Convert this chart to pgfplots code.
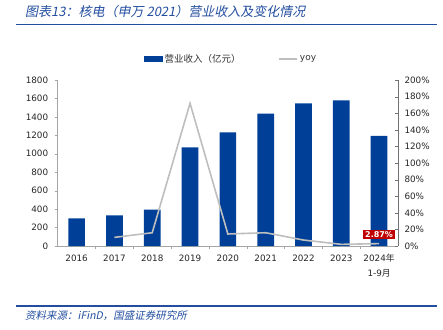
\documentclass[border=0pt]{standalone}
\usepackage{fontspec}
\usepackage{pgfplots}
\pgfplotsset{compat=1.18}
\setmainfont{DejaVu Sans}
\newfontfamily\cjk{Noto Sans CJK SC}
\newfontfamily\cjkit[FakeSlant=0.2]{Noto Sans CJK SC}
\definecolor{barblue}{RGB}{0,63,152}
\definecolor{titleblue}{RGB}{35,78,160}
\definecolor{linegray}{RGB}{190,190,190}
\definecolor{axgray}{RGB}{165,165,165}
\definecolor{labred}{RGB}{192,0,0}
\begin{document}
\begin{tikzpicture}[x=1bp,y=1bp]
\useasboundingbox (0,0) rectangle (443,-329);
\node[anchor=west, text=titleblue, inner sep=0] at (25,-12) {\cjkit\fontsize{13bp}{14bp}\selectfont 图表13：核电（申万 2021）营业收入及变化情况};
\draw[titleblue, line width=1.3bp] (16,-24.5) -- (437,-24.5);
\draw[titleblue, line width=1.3bp] (16,-306) -- (437,-306);
\node[anchor=west, text=titleblue, inner sep=0] at (25,-315.5) {\cjkit\fontsize{10.5bp}{12bp}\selectfont 资料来源：iFinD，国盛证券研究所};
\begin{axis}[
  at={(57.7bp,-246bp)}, anchor=south west,
  scale only axis, width=340.3bp, height=166bp,
  xmin=-0.5, xmax=8.5, ymin=0, ymax=1800,
  axis y line*=left, axis x line*=bottom,
  axis line style={axgray, line width=0.8bp},
  ytick={0,200,...,1800},
  xtick={0,...,8},
  xticklabels={2016,2017,2018,2019,2020,2021,2022,2023,{2024{\cjk 年}\\1-9{\cjk 月}}},
  xticklabel style={align=center, font=\fontsize{8.8bp}{15bp}\selectfont, text=black!85, yshift=-2bp},
  yticklabel style={font=\fontsize{8.8bp}{10bp}\selectfont, text=black!85, xshift=-3bp},
  major x tick style={draw=none},
  minor xtick={0.5,1.5,...,7.5},
  minor tick length=3bp,
  major tick length=3bp,
  x tick style={axgray},
  y tick style={axgray},
  ytick align=outside, xtick align=inside,
  /pgf/number format/assume math mode=true,
  /pgf/number format/1000 sep={},
  ybar, bar width=16.7bp, bar shift=0pt,
  clip=false,
  legend style={at={(0.509,1.127)}, anchor=center, draw=none, fill=none, legend columns=2,
    font=\cjk\fontsize{9.5bp}{10bp}\selectfont, text=black!80, inner sep=0pt,
    /tikz/every even column/.append style={column sep=36bp}},
]
\addplot[fill=barblue, draw=none, legend image code/.code={\fill[barblue] (0bp,-3.2bp) rectangle (19bp,3.2bp);}]
  coordinates {(0,300) (1,332) (2,394) (3,1070) (4,1232) (5,1435) (6,1547) (7,1579) (8,1193)};
\addlegendentry{营业收入（亿元）}
\addlegendimage{legend image code/.code={\draw[linegray, line width=1.3bp] (0bp,0bp) -- (18bp,0bp);}}
\addlegendentry{\fontspec{DejaVu Sans}\fontsize{9bp}{10bp}\selectfont yoy}
\end{axis}
\begin{axis}[
  at={(57.7bp,-246bp)}, anchor=south west,
  scale only axis, width=340.3bp, height=166bp,
  xmin=-0.5, xmax=8.5, ymin=0, ymax=200,
  axis y line*=right, axis x line=none,
  axis line style={black!55, line width=0.8bp},
  ytick={0,20,...,200},
  yticklabel={\pgfmathprintnumber{\tick}\%},
  yticklabel style={font=\fontsize{8.8bp}{10bp}\selectfont, text=black!85, xshift=3bp},
  ytick align=inside, major tick length=3.5bp,
  y tick style={black!55},
  /pgf/number format/assume math mode=true,
  clip=false,
]
\addplot[linegray, line width=1.6bp, mark=none] coordinates {(1,10.4) (2,16) (3,172) (4,14.5) (5,16) (6,7.2) (7,2) (8,2.87)};
\addplot[draw=none, mark=none, nodes near coords, point meta=explicit symbolic,
  every node near coord/.style={fill=labred, text=white, font=\bfseries\fontsize{8bp}{8bp}\selectfont, inner sep=1.8bp, anchor=south, yshift=4bp}]
  coordinates {(8,2.87) [2.87\%]};
\end{axis}
\end{tikzpicture}
\end{document}
